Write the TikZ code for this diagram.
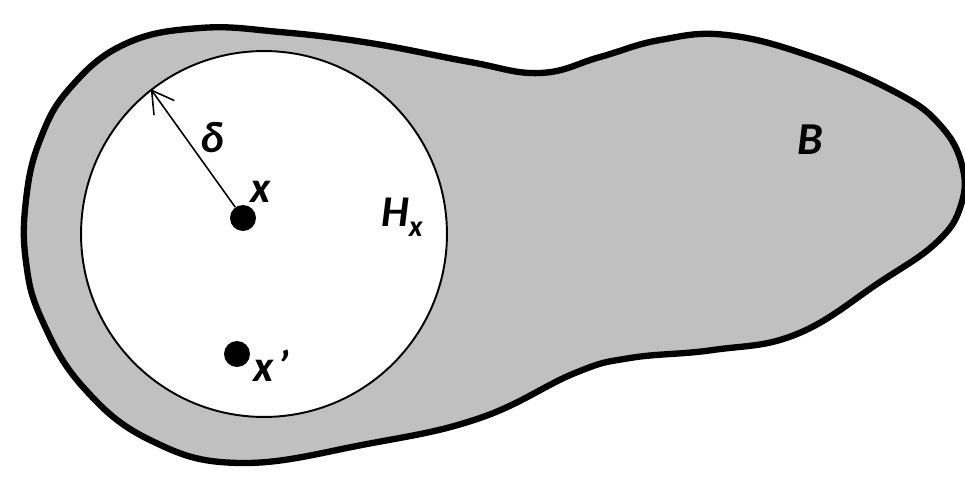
\documentclass[tikz,border=0pt]{standalone}
\usepackage{fontspec}
\setmainfont{Carlito}
\usetikzlibrary{arrows.meta}
\definecolor{blobgray}{HTML}{C0C0C0}
\tikzset{
  lbl/.style={font=\fontsize{25}{28}\selectfont\bfseries\itshape, inner sep=0pt},
  dotnode/.style={circle, fill=black, inner sep=0pt, minimum size=0.52cm},
  ballnode/.style={circle, draw=black, fill=white, line width=1.1pt, inner sep=0pt, minimum size=7.32cm},
  radiusarrow/.style={line width=0.9pt, -{Straight Barb[length=4.3mm,width=5mm,line width=0.9pt]}}
}
\begin{document}
\begin{tikzpicture}[x=0.02cm,y=-0.02cm]
\useasboundingbox (0,0) rectangle (965,477);
\begin{scope}
\clip (0,0) rectangle (965,477);
\draw[line width=3.6pt, fill=blobgray] plot[smooth cycle, tension=0.7] coordinates {
 (26,200) (40,140) (70,88) (125,44) (200,28) (280,32) (370,43) (470,62) (540,73) (600,57) (660,40) (727,35) (813,57) (897,93) (940,125) (962,165) (961,205) (937,242) (880,282) (797,334) (713,350) (630,358) (575,373) (480,418) (367,444) (240,463) (150,440) (83,387) (42,320) (26,262)};
\end{scope}
\node[ballnode] (H) at (264,234) {};
\node[dotnode] (x) at (243,218) {};
\node[dotnode] (xp) at (237,354) {};
\draw[radiusarrow] (x) -- (H.128.5);
\node[lbl] (delta) at (212,138) {δ};
\node[lbl] (xlab) at (261,192) {x};
\node[lbl] (xplab) at (271,366) {x\hspace{0.08em}\symbol{39}};
\node[lbl] (Hlab) at (402,217) {H\raisebox{-0.22em}{\fontsize{17}{19}\selectfont x}};
\node[lbl, font=\fontsize{26}{30}\selectfont\bfseries\itshape] (Blab) at (810,140) {B};
\end{tikzpicture}
\end{document}
